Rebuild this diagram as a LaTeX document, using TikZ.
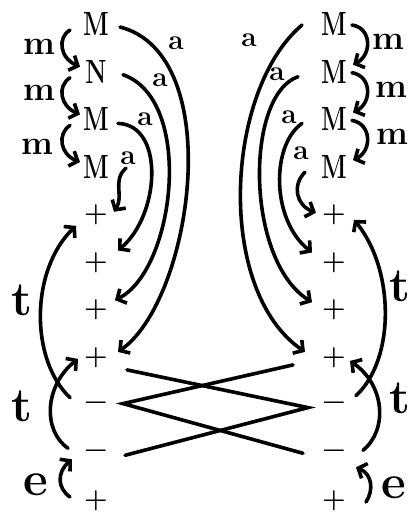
\documentclass[tikz,border=0pt]{standalone}
\usepackage{fontspec}
\usetikzlibrary{arrows.meta}
\begin{document}
\begin{tikzpicture}[x=1pt,y=-1pt,
  bigM/.style={inner sep=0pt, font=\fontsize{24}{24}\selectfont\bfseries},
  pm/.style={inner sep=0pt, font=\fontsize{27}{27}\selectfont\bfseries},
  mlab/.style={inner sep=0pt, font=\fontsize{34}{34}\selectfont\bfseries},
  alab/.style={inner sep=0pt, font=\fontsize{28}{28}\selectfont\bfseries},
  tlab/.style={inner sep=0pt, font=\fontsize{48}{48}\selectfont\bfseries},
  elab/.style={inner sep=0pt, font=\fontsize{48}{48}\selectfont\bfseries},
  arc/.style={line width=3.6pt, line cap=round, -{Straight Barb[length=7pt,width=16pt]}},
  xline/.style={line width=3.6pt, line cap=round}
]
\useasboundingbox (0,0) rectangle (411,515);
% left column
\node[bigM] (L0) at (96,24) {\scalebox{1}[1.4]{M}};
\node[bigM] (L1) at (96,71.7) {\scalebox{1}[1.4]{N}};
\node[bigM] (L2) at (96,119.4) {\scalebox{1}[1.4]{M}};
\node[bigM] (L3) at (96,167.1) {\scalebox{1}[1.4]{M}};
\node[pm] (L4) at (96,214.8) {+};
\node[pm] (L5) at (96,262.5) {+};
\node[pm] (L6) at (96,310.2) {+};
\node[pm] (L7) at (96,357.9) {+};
\node[pm] (L8) at (96,405.6) {−};
\node[pm] (L9) at (96,453.3) {−};
\node[pm] (L10) at (96,501) {+};
% right column
\node[bigM] (R0) at (334,24) {\scalebox{1}[1.4]{M}};
\node[bigM] (R1) at (334,71.7) {\scalebox{1}[1.4]{M}};
\node[bigM] (R2) at (334,119.4) {\scalebox{1}[1.4]{M}};
\node[bigM] (R3) at (334,167.1) {\scalebox{1}[1.4]{M}};
\node[pm] (R4) at (334,214.8) {+};
\node[pm] (R5) at (334,262.5) {+};
\node[pm] (R6) at (334,310.2) {+};
\node[pm] (R7) at (334,357.9) {+};
\node[pm] (R8) at (334,405.6) {−};
\node[pm] (R9) at (334,453.3) {−};
\node[pm] (R10) at (334,501) {+};
% labels
\node[alab] (la1) at (176,43) {a};
\node[alab] (la2) at (160,80) {a};
\node[alab] (la3) at (145,119) {a};
\node[alab] (la4) at (128,158) {a};
\node[alab] (ra1) at (249,40) {a};
\node[alab] (ra2) at (277,74) {a};
\node[alab] (ra3) at (289,117) {a};
\node[alab] (ra4) at (301,153) {a};
\node[mlab] (lm1) at (39,47) {m};
\node[mlab] (lm2) at (39,93) {m};
\node[mlab] (lm3) at (37,147) {m};
\node[mlab] (rm1) at (388,42) {m};
\node[mlab] (rm2) at (391,90) {m};
\node[mlab] (rm3) at (392,137) {m};
\node[tlab] (lt1) at (22,300) {t};
\node[tlab] (lt2) at (22,406) {t};
\node[tlab] (rt1) at (400,286) {t};
\node[tlab] (rt2) at (400,398) {t};
\node[elab] (le) at (36,485) {e};
\node[elab] (re) at (394,488) {e};
% left a-arcs
\draw[arc] ([shift={(24,3)}]L0.center) .. controls (228,55) and (192,300) .. ([shift={(22,-6)}]L7.center);
\draw[arc] ([shift={(27,3)}]L1.center) .. controls (195,100) and (175,270) .. ([shift={(19,-10)}]L6.center);
\draw[arc] ([shift={(22,4)}]L2.center) .. controls (165,125) and (160,215) .. ([shift={(22,-12)}]L5.center);
\draw[arc] ([shift={(30,1)}]L3.center) .. controls (112,180) and (124,196) .. ([shift={(18,-3)}]L4.center);
% right a-arcs
\draw[arc] ([shift={(-32,1)}]R0.center) .. controls (225,90) and (215,290) .. ([shift={(-29,-6)}]R7.center);
\draw[arc] ([shift={(-36,5)}]R1.center) .. controls (245,95) and (245,260) .. ([shift={(-22,-8)}]R6.center);
\draw[arc] ([shift={(-32,4)}]R2.center) .. controls (271,145) and (271,220) .. ([shift={(-22,-10)}]R5.center);
\draw[arc] ([shift={(-29,5)}]R3.center) .. controls (292,185) and (296,205) .. ([shift={(-18,-2)}]R4.center);
% left m-hooks
\draw[arc] ([shift={(-26,6)}]L0.center) .. controls (57,38) and (60,58) .. ([shift={(-16,-5)}]L1.center);
\draw[arc] ([shift={(-26,6)}]L1.center) .. controls (57,86) and (60,106) .. ([shift={(-16,-5)}]L2.center);
\draw[arc] ([shift={(-26,6)}]L2.center) .. controls (57,134) and (60,154) .. ([shift={(-16,-5)}]L3.center);
% right m-hooks
\draw[arc] ([shift={(18,1)}]R0.center) .. controls (372,28) and (372,55) .. ([shift={(19,-7)}]R1.center);
\draw[arc] ([shift={(18,1)}]R1.center) .. controls (372,76) and (372,103) .. ([shift={(19,-7)}]R2.center);
\draw[arc] ([shift={(18,1)}]R2.center) .. controls (372,124) and (372,151) .. ([shift={(19,-7)}]R3.center);
% left t-arcs
\draw[arc] ([shift={(-26,-8)}]L8.center) .. controls (30,360) and (30,270) .. ([shift={(-20,11)}]L4.center);
\draw[arc] ([shift={(-28,-5)}]L9.center) .. controls (42,430) and (45,385) .. ([shift={(-18,1)}]L7.center);
% right t-arcs
\draw[arc] ([shift={(22,-10)}]R8.center) .. controls (395,360) and (395,270) .. ([shift={(20,5)}]R4.center);
\draw[arc] ([shift={(29,-3)}]R9.center) .. controls (388,430) and (385,385) .. ([shift={(16,3)}]R7.center);
% e-arrows
\draw[arc] ([shift={(-26,-4)}]L10.center) .. controls (57,488) and (57,472) .. ([shift={(-24,6)}]L9.center);
\draw[arc] ([shift={(32,1)}]R10.center) .. controls (374,490) and (372,474) .. ([shift={(22,14)}]R9.center);
% crossing lines
\coordinate (xa) at ([shift={(31,12)}]L7.center);
\coordinate (xb) at ([shift={(-41,7)}]R7.center);
\coordinate (xc) at ([shift={(27,-2)}]L8.center);
\coordinate (xd) at ([shift={(-26,2)}]R8.center);
\coordinate (xe) at ([shift={(29,2)}]L9.center);
\coordinate (xf) at ([shift={(-31,0)}]R9.center);
\draw[xline] (xa) -- (xd) -- (xe);
\draw[xline] (xb) -- (xc) -- (xf);
\end{tikzpicture}
\end{document}
